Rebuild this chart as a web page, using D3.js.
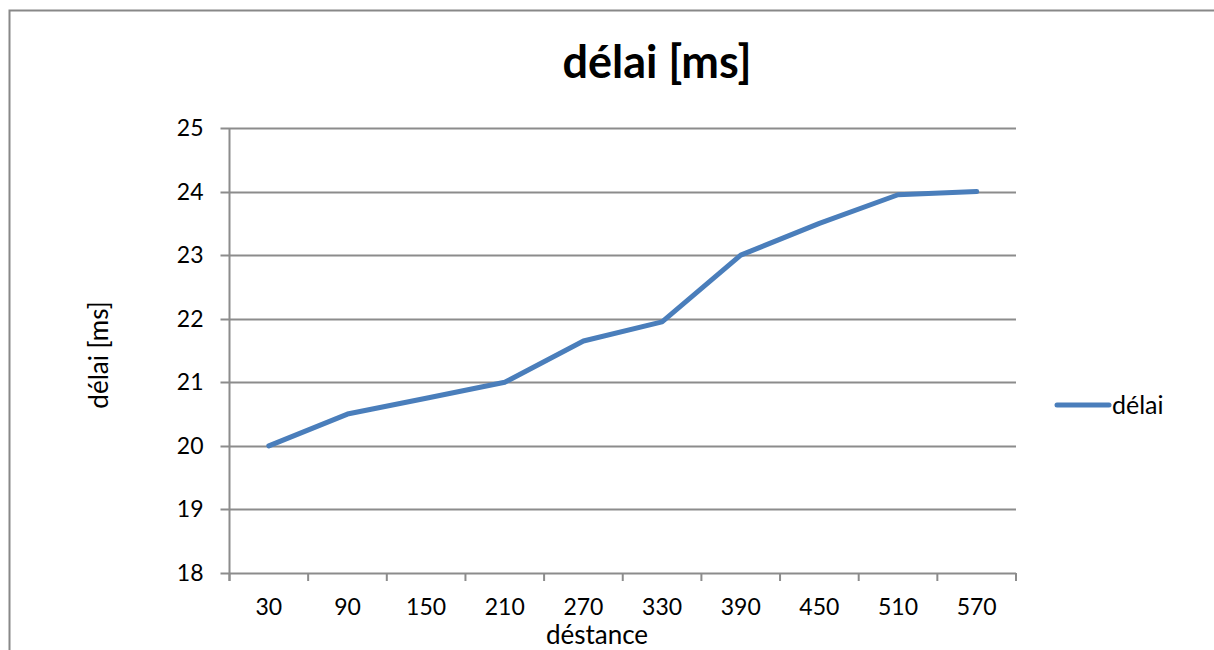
<!DOCTYPE html>
<html>
<head>
<meta charset="utf-8">
<script src="https://cdn.jsdelivr.net/npm/d3@7"></script>
<style>
  body { margin: 0; background: #fff; }
  svg { display: block; font-family: Lato, "Open Sans", sans-serif; }
</style>
</head>
<body>
<svg id="chart" width="1214" height="650"></svg>
<script>
// data
var categories = ["30", "90", "150", "210", "270", "330", "390", "450", "510", "570"];
var delai = [20, 20.5, 20.75, 21, 21.65, 21.95, 23, 23.5, 23.95, 24];
var yTicks = [18, 19, 20, 21, 22, 23, 24, 25];

var svg = d3.select("#chart")

// outer frame (top + left only visible)
svg.append("path")
    .attr("d", "M9.5,650 L9.5,10.5 L1214,10.5")
    .attr("fill", "none")
    .attr("stroke", "#888")
    .attr("stroke-width", 2)

var plotLeft = 229.5, plotRight = 1016, plotTop = 128, plotBottom = 573

var x = d3.scaleBand().domain(categories).range([plotLeft, plotRight])
var y = d3.scaleLinear().domain([18, 25]).range([plotBottom, plotTop])

// grid lines
svg.append("g")
    .selectAll("line")
    .data(yTicks)
    .enter().append("line")
    .attr("x1", plotLeft - 9)
    .attr("x2", plotRight)
    .attr("y1", function(d){ return Math.round(y(d)) + 0.5 })
    .attr("y2", function(d){ return Math.round(y(d)) + 0.5 })
    .attr("stroke", "#8c8c8c")
    .attr("stroke-width", 2)

// y axis line
svg.append("line")
    .attr("x1", plotLeft).attr("x2", plotLeft)
    .attr("y1", plotTop).attr("y2", plotBottom + 8)
    .attr("stroke", "#8c8c8c")
    .attr("stroke-width", 2)

// y labels
svg.append("g")
    .selectAll("text")
    .data(yTicks)
    .enter().append("text")
    .attr("x", plotLeft - 26)
    .attr("y", function(d){ return y(d) + 8 })
    .attr("text-anchor", "end")
    .attr("font-size", 23)
    .attr("fill", "#000")
    .text(function(d){ return d })

// x tick marks at band edges
var edges = categories.map(function(c){ return x(c) }).concat([plotRight])
svg.append("g")
    .selectAll("line")
    .data(edges)
    .enter().append("line")
    .attr("x1", function(d){ return d })
    .attr("x2", function(d){ return d })
    .attr("y1", plotBottom)
    .attr("y2", plotBottom + 8)
    .attr("stroke", "#8c8c8c")
    .attr("stroke-width", 2)

// x labels
svg.append("g")
    .selectAll("text")
    .data(categories)
    .enter().append("text")
    .attr("x", function(d){ return x(d) + x.bandwidth() / 2 })
    .attr("y", 615)
    .attr("text-anchor", "middle")
    .attr("font-size", 23)
    .attr("fill", "#000")
    .text(function(d){ return d })

// series line
var line = d3.line()
    .x(function(d, i){ return x(categories[i]) + x.bandwidth() / 2 })
    .y(function(d){ return y(d) })

svg.append("path")
    .datum(delai)
    .attr("d", line)
    .attr("fill", "none")
    .attr("stroke", "#4a7ebb")
    .attr("stroke-width", 5)
    .attr("stroke-linejoin", "round")
    .attr("stroke-linecap", "round")

// title
svg.append("text")
    .attr("x", 657)
    .attr("y", 78)
    .attr("text-anchor", "middle")
    .attr("font-size", 45)
    .attr("font-weight", "bold")
    .text("délai [ms]")

// axis titles
svg.append("text")
    .attr("x", 597)
    .attr("y", 644)
    .attr("text-anchor", "middle")
    .attr("font-size", 26)
    .text("déstance")

svg.append("text")
    .attr("transform", "translate(108,355) rotate(-90)")
    .attr("text-anchor", "middle")
    .attr("font-size", 26)
    .text("délai [ms]")

// legend
svg.append("line")
    .attr("x1", 1057).attr("x2", 1109)
    .attr("y1", 405).attr("y2", 405)
    .attr("stroke", "#4a7ebb")
    .attr("stroke-width", 5)
    .attr("stroke-linecap", "round")

svg.append("text")
    .attr("x", 1112)
    .attr("y", 414)
    .attr("font-size", 25)
    .text("délai")
</script>
</body>
</html>
